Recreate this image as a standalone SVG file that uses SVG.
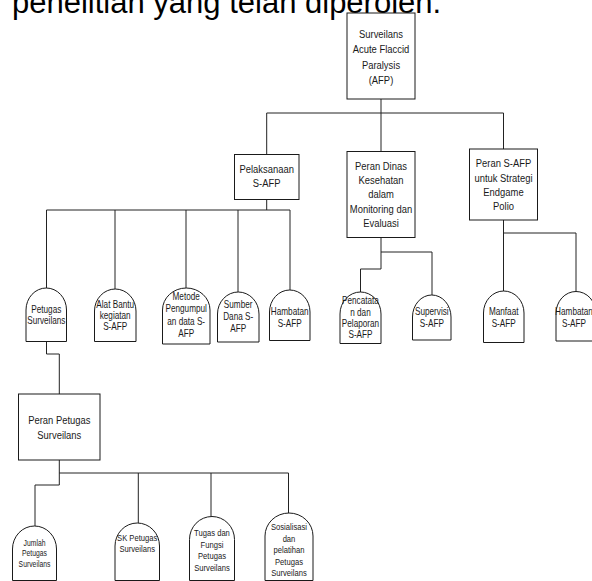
<svg xmlns="http://www.w3.org/2000/svg" width="592" height="581" viewBox="0 0 592 581">
<style>
text{font-family:"Liberation Sans",Arial,sans-serif;fill:#1a1a1a;text-anchor:middle}
.head{font-size:31px;text-anchor:start;fill:#000}
.big{font-size:11.5px}
.sm{font-size:10px}
.xs{font-size:9.3px}
.tiny{font-size:8.3px}
.box{fill:#fff;stroke:#1a1a1a;stroke-width:1}
.tomb{fill:#fff;stroke:#1a1a1a;stroke-width:1}
#connectors path{fill:none;stroke:#222;stroke-width:1}
</style>
<rect width="592" height="581" fill="#fff"/>
<text class="head" x="12" y="13">penelitian yang telah diperoleh.</text>

<g id="connectors">
<path d="M381,99 V113 M266.7,113 H503.5 M266.7,113 V154.5 M381,113 V151.5 M503.5,113 V149"/>
<path d="M266.7,199.5 V210 M46.5,210 H290 M46.5,210 V288 M115,210 V289 M186,210 V288 M238,210 V292 M290,210 V290"/>
<path d="M381,237.5 V269 H360.5 V292 M381,252 H432 V295"/>
<path d="M503.5,220 V291 M503.5,233 H576 V291.5"/>
<path d="M46.5,341.5 V354 H59.3 V394"/>
<path d="M59.3,460 V485 H35 V526 M59.3,473 H288.5 M138.3,473 V523 M211,473 V516.5 M288.5,473 V513"/>
</g>

<g id="n-surveilans-afp">
<rect class="box" x="347" y="13" width="68" height="86"/>
<text class="big" transform="translate(68.58,0) scale(0.82,1)" x="381" y="38.3">Surveilans<tspan x="381" dy="15.2">Acute Flaccid</tspan><tspan x="381" dy="15.2">Paralysis</tspan><tspan x="381" dy="15.2">(AFP)</tspan></text>
</g>

<g id="n-pelaksanaan">
<rect class="box" x="234.5" y="154.5" width="64.5" height="45"/>
<text class="big" transform="translate(48.006,0) scale(0.82,1)" x="266.7" y="173.5">Pelaksanaan<tspan x="266.7" dy="14">S-AFP</tspan></text>
</g>

<g id="n-peran-dinas">
<rect class="box" x="347" y="151.5" width="68" height="86"/>
<text class="big" transform="translate(68.58,0) scale(0.82,1)" x="381" y="170">Peran Dinas<tspan x="381" dy="14.2">Kesehatan</tspan><tspan x="381" dy="14.2">dalam</tspan><tspan x="381" dy="14.2">Monitoring dan</tspan><tspan x="381" dy="14.2">Evaluasi</tspan></text>
</g>

<g id="n-peran-safp">
<rect class="box" x="469.5" y="149" width="68" height="71"/>
<text class="big" transform="translate(90.63,0) scale(0.82,1)" x="503.5" y="167.3">Peran S-AFP<tspan x="503.5" dy="14.4">untuk Strategi</tspan><tspan x="503.5" dy="14.4">Endgame</tspan><tspan x="503.5" dy="14.4">Polio</tspan></text>
</g>

<g id="n-petugas">
<path class="tomb" d="M26,341.5 V310 A20.25,22 0 0 1 66.5,310 V341.5 Z"/>
<text class="sm" transform="translate(8.334,0) scale(0.82,1)" x="46.3" y="313.5">Petugas<tspan x="46.3" dy="11">Surveilans</tspan></text>
</g>

<g id="n-alat">
<path class="tomb" d="M94.5,341.5 V311 A20.75,22 0 0 1 136,311 V341.5 Z"/>
<text class="sm" transform="translate(20.736,0) scale(0.82,1)" x="115.2" y="307.8">Alat Bantu<tspan x="115.2" dy="11.2">kegiatan</tspan><tspan x="115.2" dy="11.2">S-AFP</tspan></text>
</g>

<g id="n-metode">
<path class="tomb" d="M162.5,344 V310 A23.75,22 0 0 1 210,310 V344 Z"/>
<text class="sm" transform="translate(33.516,0) scale(0.82,1)" x="186.2" y="300.2">Metode<tspan x="186.2" dy="12.2">Pengumpul</tspan><tspan x="186.2" dy="12.2">an data S-</tspan><tspan x="186.2" dy="12.2">AFP</tspan></text>
</g>

<g id="n-sumber">
<path class="tomb" d="M217.5,342 V314 A20.75,22 0 0 1 259,314 V342 Z"/>
<text class="sm" transform="translate(42.876,0) scale(0.82,1)" x="238.2" y="308.5">Sumber<tspan x="238.2" dy="11.7">Dana S-</tspan><tspan x="238.2" dy="11.7">AFP</tspan></text>
</g>

<g id="n-hambatan1">
<path class="tomb" d="M269.5,340.5 V312 A20.25,22 0 0 1 310,312 V340.5 Z"/>
<text class="sm" transform="translate(52.146,0) scale(0.82,1)" x="289.7" y="315.2">Hambatan<tspan x="289.7" dy="11.6">S-AFP</tspan></text>
</g>

<g id="n-pencatatan">
<path class="tomb" d="M340,343.5 V314 A20.5,22 0 0 1 381,314 V343.5 Z"/>
<text class="sm" transform="translate(64.89,0) scale(0.82,1)" x="360.5" y="304.5">Pencatata<tspan x="360.5" dy="11.1">n dan</tspan><tspan x="360.5" dy="11.1">Pelaporan</tspan><tspan x="360.5" dy="11.1">S-AFP</tspan></text>
</g>

<g id="n-supervisi">
<path class="tomb" d="M412.5,340 V317 A19.25,22 0 0 1 451,317 V340 Z"/>
<text class="sm" transform="translate(77.724,0) scale(0.82,1)" x="431.8" y="315.2">Supervisi<tspan x="431.8" dy="11.6">S-AFP</tspan></text>
</g>

<g id="n-manfaat">
<path class="tomb" d="M483.5,342.5 V313 A20.25,22 0 0 1 524,313 V342.5 Z"/>
<text class="sm" transform="translate(90.666,0) scale(0.82,1)" x="503.7" y="315.2">Manfaat<tspan x="503.7" dy="11.6">S-AFP</tspan></text>
</g>

<g id="n-hambatan2">
<path class="tomb" d="M556,341 V313.5 A20,22 0 0 1 596,313.5 V341 Z"/>
<text class="sm" transform="translate(103.32,0) scale(0.82,1)" x="574" y="315.2">Hambatan<tspan x="574" dy="11.6">S-AFP</tspan></text>
</g>

<g id="n-peran-petugas">
<rect class="box" x="18.5" y="394" width="81.5" height="66"/>
<text class="big" transform="translate(10.674,0) scale(0.82,1)" x="59.3" y="424">Peran Petugas<tspan x="59.3" dy="15">Surveilans</tspan></text>
</g>

<g id="n-jumlah">
<path class="tomb" d="M12.5,580.5 V549 A22,23 0 0 1 56.5,549 V580.5 Z"/>
<text class="tiny" transform="translate(6.21,0) scale(0.82,1)" x="34.5" y="545.7">Jumlah<tspan x="34.5" dy="10.7">Petugas</tspan><tspan x="34.5" dy="10.7">Surveilans</tspan></text>
</g>

<g id="n-sk">
<path class="tomb" d="M115,580.5 V546 A22.25,23 0 0 1 159.5,546 V580.5 Z"/>
<text class="xs" transform="translate(24.696,0) scale(0.82,1)" x="137.2" y="541.5">SK Petugas<tspan x="137.2" dy="11">Surveilans</tspan></text>
</g>

<g id="n-tugas">
<path class="tomb" d="M189.5,580.5 V539.5 A22.5,23 0 0 1 234.5,539.5 V580.5 Z"/>
<text class="xs" transform="translate(38.16,0) scale(0.82,1)" x="212" y="536">Tugas dan<tspan x="212" dy="11.6">Fungsi</tspan><tspan x="212" dy="11.6">Petugas</tspan><tspan x="212" dy="11.6">Surveilans</tspan></text>
</g>

<g id="n-sosialisasi">
<path class="tomb" d="M265,580.5 V536 A24,23 0 0 1 313,536 V580.5 Z"/>
<text class="xs" transform="translate(52.02,0) scale(0.82,1)" x="289" y="530.5">Sosialisasi<tspan x="289" dy="11.5">dan</tspan><tspan x="289" dy="11.5">pelatihan</tspan><tspan x="289" dy="11.5">Petugas</tspan><tspan x="289" dy="11.5">Surveilans</tspan></text>
</g>
</svg>
